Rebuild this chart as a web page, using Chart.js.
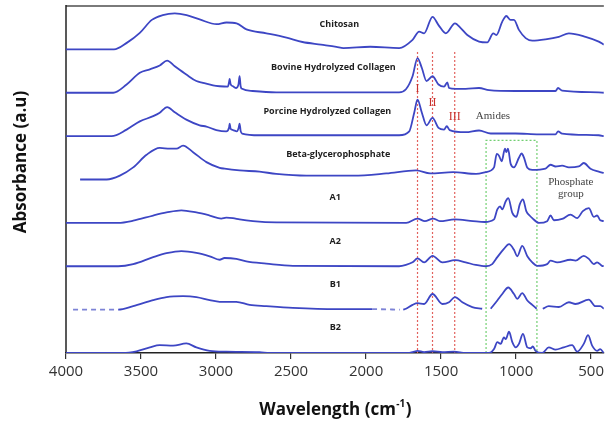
<!DOCTYPE html>
<html><head><meta charset="utf-8">
<style>html,body{margin:0;padding:0;background:#fff;}#wrap{width:608px;height:423px;position:relative}</style>
<script src="https://cdn.jsdelivr.net/npm/chart.js@4.4.1/dist/chart.umd.min.js"></script>
</head><body><div id="wrap"><canvas id="c" width="608" height="423"></canvas></div>
<script>
// ---- data: [wavenumber (cm-1), relative absorbance (a.u.)] ----
const seriesNames = ["Chitosan","Bovine Hydrolyzed Collagen","Porcine Hydrolyzed Collagen","Beta-glycerophosphate","A1","A2","B1","B2"];
const offsets = [7,6,5,4,3,2,1,0];
const xTicks = [4000,3500,3000,2500,2000,1500,1000,500];
const amideBands = [1657,1557,1409];
const amideLabels = ["I","II","III"];
const phosphateBand = [1200,861];

const chitosan = [[4000,0],[3680,0],[3595,0.15],[3508,0.38],[3428,0.68],[3355,0.79],[3275,0.83],[3196,0.79],[3109,0.69],[2996,0.58],[2930,0.62],[2863,0.60],[2797,0.46],[2664,0.37],[2530,0.27],[2424,0.17],[2300,0.11],[2198,0.06],[2151,0.03],[1972,0.06],[1779,0.03],[1690,0.22],[1646,0.41],[1613,0.37],[1557,0.75],[1517,0.56],[1468,0.37],[1407,0.60],[1369,0.49],[1325,0.33],[1247,0.18],[1192,0.16],[1152,0.37],[1132,0.33],[1092,0.64],[1065,0.77],[1037,0.68],[1014,0.68],[981,0.45],[936,0.26],[892,0.20],[804,0.23],[715,0.29],[648,0.37],[537,0.29],[449,0.18],[415,0.11]];
const bovine = [[4000,0],[3685,0],[3596,0.19],[3508,0.46],[3441,0.54],[3375,0.63],[3326,0.74],[3275,0.61],[3198,0.42],[3131,0.27],[3087,0.23],[3020,0.17],[2976,0.15],[2921,0.14],[2913,0.25],[2909,0.32],[2903,0.2],[2887,0.15],[2865,0.11],[2850,0.2],[2843,0.38],[2836,0.15],[2826,0.09],[2755,0.04],[2599,0.01],[1780,0.01],[1734,0.08],[1690,0.38],[1657,0.80],[1628,0.57],[1597,0.27],[1557,0.38],[1517,0.19],[1480,0.14],[1458,0.24],[1447,0.11],[1402,0.09],[1336,0.09],[1247,0.11],[1180,0.06],[1003,0.04],[737,0.04],[720,0.11],[693,0.05],[449,0.01],[415,0]];
const porcine = [[4000,0],[3696,0],[3596,0.15],[3508,0.34],[3419,0.46],[3375,0.54],[3326,0.67],[3275,0.55],[3198,0.38],[3109,0.25],[3064,0.22],[2998,0.14],[2932,0.11],[2913,0.2],[2909,0.29],[2903,0.17],[2887,0.14],[2861,0.11],[2850,0.18],[2843,0.29],[2836,0.12],[2826,0.06],[2710,0.02],[1780,0.02],[1712,0.11],[1679,0.54],[1657,0.84],[1628,0.54],[1597,0.25],[1557,0.42],[1517,0.19],[1480,0.15],[1462,0.23],[1443,0.14],[1336,0.09],[1247,0.13],[1169,0.06],[1003,0.06],[848,0.04],[737,0.04],[720,0.11],[693,0.06],[449,0.02],[415,0]];
const betaGP = [[3906,0],[3729,0],[3641,0.09],[3552,0.28],[3463,0.57],[3375,0.73],[3308,0.71],[3264,0.71],[3220,0.78],[3153,0.63],[3064,0.40],[2976,0.27],[2943,0.25],[2843,0.21],[2710,0.18],[2599,0.13],[2399,0.09],[2085,0.09],[1865,0.14],[1666,0.21],[1573,0.14],[1420,0.17],[1267,0.13],[1203,0.17],[1147,0.28],[1129,0.59],[1114,0.55],[1096,0.42],[1074,0.71],[1065,0.63],[1054,0.71],[1036,0.36],[1014,0.28],[981,0.50],[963,0.60],[948,0.51],[925,0.27],[892,0.22],[804,0.25],[770,0.34],[737,0.30],[693,0.32],[648,0.28],[582,0.30],[549,0.38],[504,0.25],[449,0.18],[415,0.15]];
const a1 = [[4000,0],[3652,0],[3552,0.05],[3419,0.17],[3330,0.24],[3231,0.29],[3131,0.24],[3042,0.17],[2965,0.10],[2932,0.12],[2887,0.11],[2843,0.08],[2754,0.04],[2599,0.01],[1732,0],[1657,0.10],[1608,0.04],[1553,0.10],[1508,0.04],[1409,0.08],[1287,0.04],[1209,0.02],[1147,0.08],[1125,0.31],[1107,0.38],[1092,0.31],[1069,0.50],[1052,0.57],[1025,0.23],[998,0.14],[976,0.42],[954,0.54],[932,0.27],[910,0.17],[892,0.11],[848,0],[793,0.04],[770,0.17],[748,0.06],[693,0.09],[637,0.19],[593,0.11],[555,0.27],[515,0.34],[482,0.14],[460,0.17],[439,0.06],[415,0.04]];
const a2 = [[4000,0],[3652,0],[3552,0.05],[3419,0.21],[3330,0.30],[3231,0.35],[3131,0.31],[3042,0.23],[2976,0.15],[2943,0.19],[2865,0.17],[2798,0.11],[2665,0.06],[2488,0.01],[1780,0],[1734,0.03],[1690,0.09],[1657,0.18],[1613,0.09],[1557,0.24],[1491,0.09],[1407,0.14],[1336,0.09],[1269,0.03],[1203,0],[1159,0.05],[1125,0.21],[1081,0.40],[1047,0.51],[1014,0.38],[992,0.23],[959,0.47],[925,0.23],[892,0.09],[859,0.01],[793,0.05],[770,0.13],[726,0.09],[637,0.15],[604,0.13],[549,0.24],[515,0.17],[482,0.05],[460,0.09],[427,0.01],[415,0]];
const b1 = [[3953,0],[3680,0],[3652,0],[3552,0.08],[3419,0.22],[3330,0.29],[3220,0.31],[3131,0.29],[3042,0.22],[2976,0.18],[2865,0.18],[2776,0.11],[2665,0.08],[2488,0.04],[2200,0.01],[1960,0.01],[1775,0],[1764,null],[1752,0],[1734,0.02],[1690,0.11],[1657,0.15],[1613,0.13],[1557,0.36],[1491,0.13],[1447,0.17],[1407,0.29],[1358,0.17],[1292,0.06],[1226,0.02],[1200,null],[1169,0.02],[1125,0.21],[1092,0.36],[1052,0.51],[1014,0.36],[992,0.25],[959,0.38],[925,0.21],[892,0.11],[863,0.02],[845,null],[822,0.02],[782,0.08],[715,0.06],[648,0.17],[604,0.13],[515,0.23],[471,0.08],[439,0.08],[415,0.02]];
const b2 = [[4000,0],[3620,0],[3530,0.04],[3441,0.13],[3375,0.18],[3286,0.17],[3198,0.22],[3131,0.13],[3042,0.05],[2932,0.03],[2710,0.02],[2643,0],[1720,0],[1690,0.02],[1657,0.05],[1613,0.02],[1557,0.04],[1491,0.02],[1413,0.03],[1336,0],[1180,0],[1147,0.09],[1125,0.25],[1103,0.21],[1081,0.36],[1069,0.32],[1047,0.49],[1025,0.25],[1003,0.13],[981,0.21],[954,0.44],[925,0.13],[903,0.11],[888,0.15],[870,0.05],[826,0],[782,0.13],[737,0.08],[682,0.13],[626,0.18],[593,0.03],[549,0.21],[520,0.41],[493,0.17],[460,0.05],[439,0.09],[415,0]];

const series = [chitosan,bovine,porcine,betaGP,a1,a2,b1,b2];
// label anchor wavenumbers (text centres)
const labelWn = [2178,2218,2258,2185,2205,2205,2205,2205];

const datasets = series.map((s,i)=>({
  label: seriesNames[i],
  data: s.map(([x,v])=>({x:x, y: v===null ? null : v+offsets[i]})),
  borderColor:'#3d46c4', borderWidth:1.8, pointRadius:0,
  cubicInterpolationMode:'monotone', spanGaps:false, fill:false,
  segment: seriesNames[i]==='B1' ? {
    borderDash: c => ((c.p0.parsed.x >= 3680) || (c.p0.parsed.x <= 1960 && c.p0.parsed.x > 1760)) ? [5,4] : undefined,
    borderColor: c => ((c.p0.parsed.x >= 3680) || (c.p0.parsed.x <= 1960 && c.p0.parsed.x > 1760)) ? '#7d83d6' : undefined
  } : undefined
}));

const overlay = {
  id:'overlay',
  beforeDatasetsDraw(chart){
    const {ctx, chartArea:ca, scales:{x,y}} = chart;
    ctx.save();
    ctx.setLineDash([2,2]); ctx.lineWidth=1.2; ctx.strokeStyle='#e2605c';
    amideBands.forEach(w=>{
      const px=x.getPixelForValue(w);
      ctx.beginPath(); ctx.moveTo(px, y.getPixelForValue(6.94)); ctx.lineTo(px, y.getPixelForValue(0)); ctx.stroke();
    });
    ctx.strokeStyle='#72cf72';
    const gx1=x.getPixelForValue(phosphateBand[0]), gx2=x.getPixelForValue(phosphateBand[1]);
    const gy=y.getPixelForValue(4.9), gb=y.getPixelForValue(0);
    ctx.beginPath(); ctx.moveTo(gx1,gb); ctx.lineTo(gx1,gy); ctx.lineTo(gx2,gy); ctx.lineTo(gx2,gb); ctx.stroke();
    ctx.setLineDash([]);
    ctx.strokeStyle='#7a7a7a'; ctx.lineWidth=2;
    ctx.beginPath(); ctx.moveTo(ca.left, ca.top); ctx.lineTo(ca.right, ca.top); ctx.stroke();
    ctx.strokeStyle='#222'; ctx.lineWidth=1.5;
    ctx.beginPath(); ctx.moveTo(ca.left, ca.top-1); ctx.lineTo(ca.left, ca.bottom); ctx.stroke();
    ctx.restore();
  },
  afterDraw(chart){
    const {ctx, chartArea:ca, scales:{x,y}} = chart;
    ctx.save();
    ctx.textAlign='center'; ctx.textBaseline='middle';
    ctx.fillStyle='#1e1e1e'; ctx.font='bold 9px "Open Sans"';
    seriesNames.forEach((n,i)=>{
      ctx.fillText(n, x.getPixelForValue(labelWn[i]), y.getPixelForValue(offsets[i]+0.58));
    });
    ctx.fillStyle='#c8302c'; ctx.font='12px "Liberation Serif"';
    const amY=[6.09,5.77,5.45];
    amideLabels.forEach((t,i)=>ctx.fillText(t, x.getPixelForValue(amideBands[i]), y.getPixelForValue(amY[i])));
    ctx.fillStyle='#444'; ctx.font='11px "Liberation Serif"';
    ctx.fillText('Amides', x.getPixelForValue(1154), y.getPixelForValue(5.45));
    ctx.fillText('Phosphate', x.getPixelForValue(635), y.getPixelForValue(3.93));
    ctx.fillText('group', x.getPixelForValue(635), y.getPixelForValue(3.66));
    ctx.fillStyle='#111';
    ctx.font='bold 17px "Open Sans"';
    const main='Wavelength (cm', sup='-1', end=')';
    const w1=ctx.measureText(main).width, w3=ctx.measureText(end).width;
    ctx.font='bold 10px "Open Sans"'; const w2=ctx.measureText(sup).width;
    const cx=(ca.left+ca.right)/2, ty=410;
    let sx=cx-(w1+w2+w3)/2;
    ctx.textAlign='left';
    ctx.font='bold 17px "Open Sans"'; ctx.fillText(main, sx, ty);
    ctx.font='bold 10px "Open Sans"'; ctx.fillText(sup, sx+w1+0.5, ty-6);
    ctx.font='bold 17px "Open Sans"'; ctx.fillText(end, sx+w1+w2+1, ty);
    ctx.translate(21,162); ctx.rotate(-Math.PI/2);
    ctx.textAlign='center';
    ctx.fillText('Absorbance (a.u)', 0, 0);
    ctx.restore();
  }
};

new Chart(document.getElementById('c'), {
  type:'line',
  data:{datasets},
  options:{
    responsive:false, animation:false, devicePixelRatio:1,
    layout:{padding:{left:66,right:2,top:6,bottom:38}},
    plugins:{legend:{display:false}, tooltip:{enabled:false}},
    scales:{
      x:{type:'linear', reverse:true, min:415, max:4000,
        afterBuildTicks:(s)=>{ s.ticks = xTicks.map(v=>({value:v})); },
        ticks:{font:{family:'Open Sans', size:15}, color:'#333', padding:4, maxRotation:0, autoSkip:false,
          callback:(v)=>String(v)},
        grid:{display:true, drawOnChartArea:false, drawTicks:true, tickLength:6, color:'#333', lineWidth:1.2},
        border:{display:true, color:'#222', width:1.5}
      },
      y:{display:false, min:0, max:8}
    }
  },
  plugins:[overlay]
});
</script>
</body></html>
